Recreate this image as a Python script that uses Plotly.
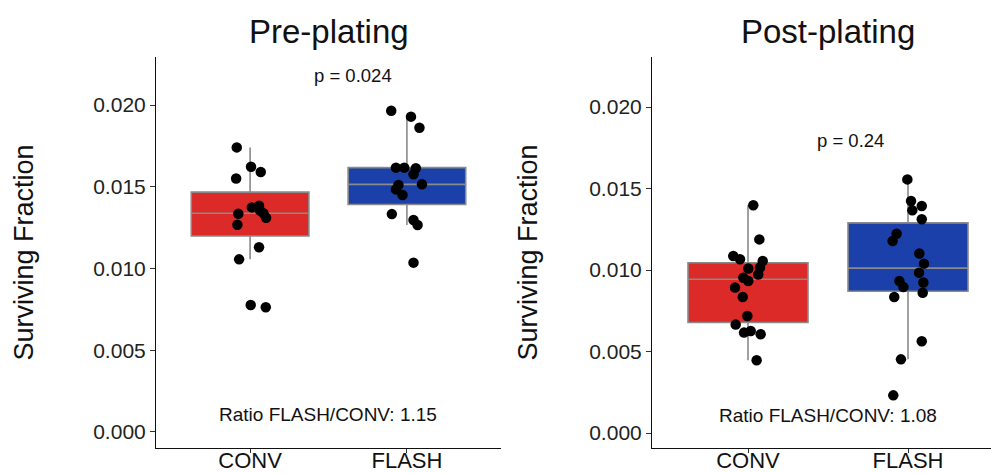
import numpy as np
import plotly.graph_objects as go

# ---------------- data ----------------
categories = ["CONV", "FLASH"]
panel_titles = ["Pre-plating", "Post-plating"]
p_labels = ["p = 0.024", "p = 0.24"]
ratio_labels = ["Ratio FLASH/CONV: 1.15", "Ratio FLASH/CONV: 1.08"]
y_tickvals = [0.000, 0.005, 0.010, 0.015, 0.020]
y_ticktext = ["0.000", "0.005", "0.010", "0.015", "0.020"]

pre_conv = [0.01741, 0.01623, 0.01590, 0.01551, 0.01384, 0.01374, 0.01354, 0.01338,
            0.01311, 0.01335, 0.01268, 0.01130, 0.01056, 0.00777, 0.00763]
pre_conv_jit = [-0.085, 0.006, 0.068, -0.089, 0.057, 0.011, 0.064, 0.085,
                0.102, -0.075, -0.081, 0.057, -0.070, 0.004, 0.100]

pre_flash = [0.01965, 0.01929, 0.01861, 0.01617, 0.01617, 0.01613, 0.01576, 0.01515,
             0.01511, 0.01484, 0.01450, 0.01333, 0.01297, 0.01266, 0.01036]
pre_flash_jit = [-0.100, 0.026, 0.080, -0.070, -0.017, 0.057, 0.042, 0.096,
                 -0.054, -0.070, -0.028, -0.096, 0.042, 0.068, 0.042]

post_conv = [0.01397, 0.01188, 0.01086, 0.01066, 0.01055, 0.01009, 0.01015, 0.00972, 0.00953,
             0.00933, 0.00892, 0.00834, 0.00718, 0.00665, 0.00616, 0.00626, 0.00606, 0.00446]
post_conv_jit = [0.033, 0.071, -0.092, -0.050, 0.092, 0.002, 0.075, 0.064, -0.029,
                 0.002, -0.081, -0.033, -0.004, -0.077, -0.025, 0.017, 0.079, 0.054]

post_flash = [0.01556, 0.01423, 0.01393, 0.01366, 0.01311, 0.01223, 0.01178, 0.01101, 0.01039,
              0.00984, 0.00933, 0.00923, 0.00896, 0.00861, 0.00834, 0.00563, 0.00452, 0.00231]
post_flash_jit = [-0.004, 0.019, 0.086, 0.027, 0.086, -0.071, -0.096, 0.071, 0.100,
                  0.069, -0.054, 0.096, -0.029, 0.092, -0.086, 0.086, -0.044, -0.092]

# ---------------- styling ----------------
W, H = 991, 473
FONT = "Liberation Sans"
RED = "#DC2A29"
BLUE = "#1B40A9"
GREY = "#8A8A8A"
colors = [RED, BLUE]


def box_stats(vals):
    v = np.asarray(vals)
    q1, med, q3 = np.percentile(v, [25, 50, 75])
    iqr = q3 - q1
    lo = v[v >= q1 - 1.5 * iqr].min()
    hi = v[v <= q3 + 1.5 * iqr].max()
    return q1, med, q3, lo, hi


fig = go.Figure()

panels = [
    (pre_conv, pre_conv_jit, pre_flash, pre_flash_jit, "x", "y"),
    (post_conv, post_conv_jit, post_flash, post_flash_jit, "x2", "y2"),
]

for (cv, cj, fv, fj, xa, ya) in panels:
    for i, (vals, jit) in enumerate([(cv, cj), (fv, fj)]):
        q1, med, q3, lo, hi = box_stats(vals)
        pos = i + 1
        fig.add_trace(go.Box(
            x=[pos], q1=[q1], median=[med], q3=[q3], lowerfence=[lo], upperfence=[hi],
            width=0.75, fillcolor=colors[i], line=dict(color=GREY, width=1.6),
            whiskerwidth=0, boxpoints=False, hoverinfo="skip", showlegend=False,
            xaxis=xa, yaxis=ya,
        ))
        fig.add_trace(go.Scatter(
            x=[pos + j for j in jit], y=vals, mode="markers",
            marker=dict(color="black", size=10.5), showlegend=False,
            xaxis=xa, yaxis=ya,
        ))

ydom = [1 - 448 / H, 1 - 57 / H]
axis_common = dict(showline=True, linecolor="#111", linewidth=1.1, showgrid=False,
                   zeroline=False, ticks="outside", tickwidth=1, tickcolor="#333",
                   automargin=False)
xfont = dict(family=FONT, size=22, color="#111")
yfont = dict(family=FONT, size=21, color="#222")
xax = dict(tickvals=[1, 2], ticktext=categories, tickfont=xfont, ticklen=4,
           ticklabelstandoff=-11, **axis_common)
yax = dict(tickvals=y_tickvals, ticktext=y_ticktext, tickfont=yfont, ticklen=5, **axis_common)

fig.update_layout(
    width=W, height=H, margin=dict(l=0, r=0, t=0, b=0, autoexpand=False),
    paper_bgcolor="white", plot_bgcolor="white",
    xaxis=dict(domain=[156 / W, 501 / W], range=[0.4, 2.6], anchor="y", **xax),
    yaxis=dict(domain=ydom, range=[-0.00098, 0.02294], anchor="x", **yax),
    xaxis2=dict(domain=[652 / W, 1.0], range=[0.4, 0.4 + 339 / 160], anchor="y2", **xax),
    yaxis2=dict(domain=ydom, range=[-0.00092, 0.02307], anchor="x2", **yax),
)

ann = []
# panel titles
ann.append(dict(text=panel_titles[0], x=328.5 / W, y=1 - 32 / H, xref="paper", yref="paper",
                showarrow=False, font=dict(family=FONT, size=33, color="#111"),
                xanchor="center", yanchor="middle"))
ann.append(dict(text=panel_titles[1], x=828 / W, y=1 - 32 / H, xref="paper", yref="paper",
                showarrow=False, font=dict(family=FONT, size=33, color="#111"),
                xanchor="center", yanchor="middle"))
# y axis titles
for xpx in (23, 527):
    ann.append(dict(text="Surviving Fraction", x=xpx / W, y=1 - 252.5 / H, xref="paper", yref="paper",
                    showarrow=False, textangle=-90, font=dict(family=FONT, size=27, color="#111"),
                    xanchor="center", yanchor="middle"))
# p-values
ann.append(dict(text=p_labels[0], x=1.657, y=0.02181, xref="x", yref="y", showarrow=False,
                font=dict(family=FONT, size=18.5, color="#111"), xanchor="center", yanchor="middle"))
ann.append(dict(text=p_labels[1], x=1.6375, y=0.01796, xref="x2", yref="y2", showarrow=False,
                font=dict(family=FONT, size=18.5, color="#111"), xanchor="center", yanchor="middle"))
# ratio labels
ann.append(dict(text=ratio_labels[0], x=1.494, y=0.00104, xref="x", yref="y", showarrow=False,
                font=dict(family=FONT, size=19, color="#111"), xanchor="center", yanchor="middle"))
ann.append(dict(text=ratio_labels[1], x=1.5, y=0.00109, xref="x2", yref="y2", showarrow=False,
                font=dict(family=FONT, size=19, color="#111"), xanchor="center", yanchor="middle"))
fig.update_layout(annotations=ann)

fig.write_html("out.html", config={"displayModeBar": False},
               post_script="document.body.style.margin='0px';")
